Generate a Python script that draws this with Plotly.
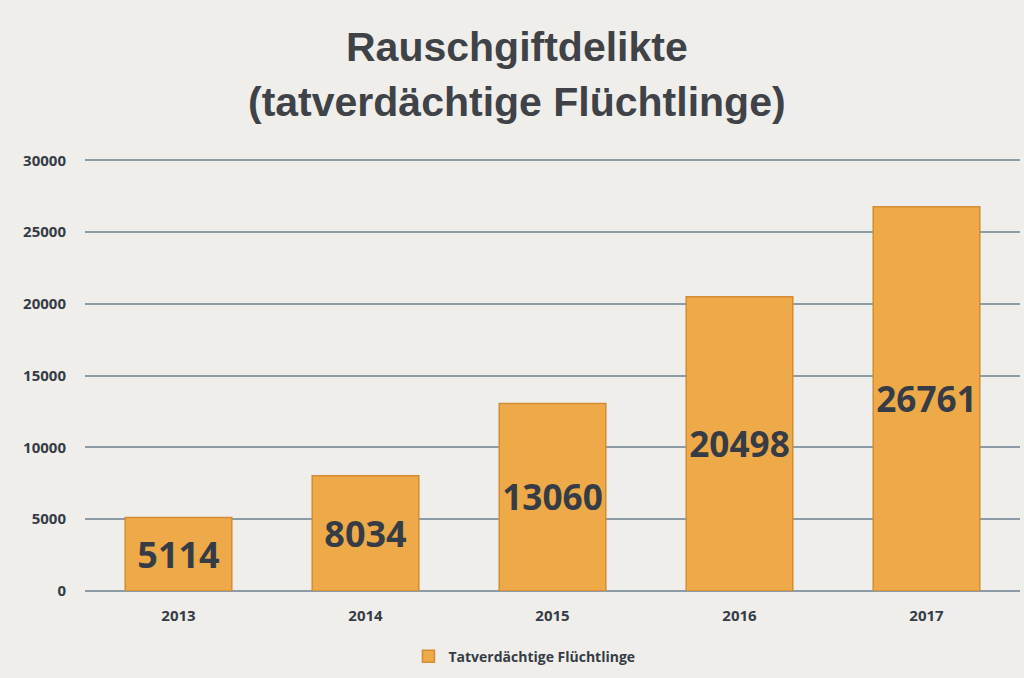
import plotly.graph_objects as go

# Daten aus der Grafik
jahre = ["2013", "2014", "2015", "2016", "2017"]
faelle = [5114, 8034, 13060, 20498, 26761]
serie_name = "Tatverdächtige Flüchtlinge"
titel_zeilen = ["Rauschgiftdelikte", "(tatverdächtige Flüchtlinge)"]
y_ticks = [0, 5000, 10000, 15000, 20000, 25000, 30000]

text_farbe = "#363c46"
hintergrund = "#efeeeb"

fig = go.Figure()
fig.add_trace(go.Bar(
    x=jahre,
    y=faelle,
    name=serie_name,
    text=[str(v) for v in faelle],
    textposition="inside",
    insidetextanchor="middle",
    textangle=0,
    textfont=dict(family="Open Sans", size=36, color=text_farbe, weight="bold"),
    marker=dict(color="#eeaa48", line=dict(color="#d38c34", width=1.5)),
    showlegend=True,
))

# Titel als zwei Annotationen (Zeilenabstand wie im Original)
for text, ypos in zip(titel_zeilen, [1.25, 1.125]):
    fig.add_annotation(
        text=text, x=0.462, y=ypos, xref="paper", yref="paper",
        xanchor="center", yanchor="middle", showarrow=False,
        font=dict(family="Liberation Sans", size=41, color="#3f4247", weight="bold"),
    )

fig.update_layout(
    width=1024,
    height=678,
    paper_bgcolor=hintergrund,
    plot_bgcolor=hintergrund,
    margin=dict(l=85, r=4, t=156, b=87),
    bargap=0.43,
    legend=dict(
        orientation="h",
        x=0.47, xanchor="center",
        y=-0.151, yanchor="middle",
        font=dict(family="Open Sans", size=14, color=text_farbe, weight="bold"),
        bgcolor="rgba(0,0,0,0)",
        itemwidth=30,
    ),
)

fig.update_xaxes(
    showgrid=False,
    showline=False,
    ticks="",
    tickfont=dict(family="Open Sans", size=15, color=text_farbe, weight="bold"),
    ticklabelstandoff=14,
)
fig.update_yaxes(
    range=[0, 30300],
    tickvals=y_ticks,
    ticktext=[str(v) for v in y_ticks],
    showgrid=True,
    gridcolor="#8d9ba7",
    gridwidth=1.5,
    zeroline=True,
    zerolinecolor="#8d9ba7",
    zerolinewidth=1.5,
    tickfont=dict(family="Open Sans", size=15, color=text_farbe, weight="bold"),
    ticklabelstandoff=18,
)

fig.write_html(
    "out.html",
    config={"displayModeBar": False},
    post_script="document.body.style.margin='0';document.body.style.background='%s';" % hintergrund,
)
